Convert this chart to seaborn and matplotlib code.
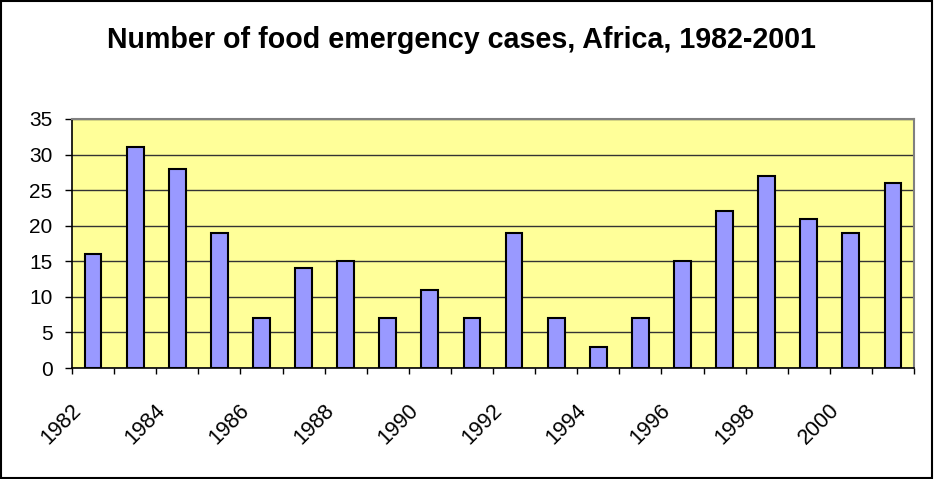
import matplotlib
matplotlib.use("Agg")
import matplotlib.pyplot as plt
import matplotlib.transforms as mtransforms
from matplotlib.patches import Rectangle
import seaborn as sns
import pandas as pd

years = [1982, 1983, 1984, 1985, 1986, 1987, 1988, 1989, 1990, 1991,
         1992, 1993, 1994, 1995, 1996, 1997, 1998, 1999, 2000, 2001]
cases = [16, 31, 28, 19, 7, 14, 15, 7, 11, 7,
         19, 7, 3, 7, 15, 22, 27, 21, 19, 26]
y_ticks = [0, 5, 10, 15, 20, 25, 30, 35]
title = "Number of food emergency cases, Africa, 1982-2001"

sns.set_style("white")
plt.rcParams['font.family'] = ['Liberation Sans', 'DejaVu Sans']
plt.rcParams['text.color'] = 'black'
plt.rcParams['xtick.color'] = 'black'
plt.rcParams['ytick.color'] = 'black'
plt.rcParams['xtick.labelcolor'] = 'black'
plt.rcParams['ytick.labelcolor'] = 'black'

df = pd.DataFrame({"year": [str(y) for y in years], "cases": cases})

fig = plt.figure(figsize=(9.34, 4.79), dpi=100)
ax = fig.add_axes([72/934, 1-368/479, (914-72)/934, (368-119)/479])
ax.set_facecolor("#FFFF99")

sns.barplot(data=df, x="year", y="cases", color="#9999FF", edgecolor="black",
            linewidth=1.5, width=0.4, saturation=1, ax=ax, zorder=3)

ax.set_xlim(-0.5, len(years) - 0.5)
ax.set_ylim(0, 35)
ax.set_yticks(y_ticks)
ax.set_yticklabels([str(v) for v in y_ticks], fontsize=15)
ax.yaxis.grid(True, color="#333333", linewidth=1.0, zorder=0)
ax.set_axisbelow(True)

bounds = [i - 0.5 for i in range(len(years) + 1)]
labels = [str(years[i]) if (i < len(years) and i % 2 == 0) else "" for i in range(len(bounds))]
ax.set_xticks(bounds)
ax.set_xticklabels(labels, fontsize=15.5, rotation=45, ha="right", va="center",
                   rotation_mode="anchor")
ax.tick_params(axis="x", bottom=True, direction="out", length=4.5, width=1,
               color="black", pad=0)
ax.tick_params(axis="y", left=True, direction="out", length=5, width=1,
               color="black", pad=9)
offset = mtransforms.ScaledTranslation(6/100, -33/100, fig.dpi_scale_trans)
for lab in ax.get_xticklabels():
    lab.set_transform(lab.get_transform() + offset)
ax.set_xlabel("")
ax.set_ylabel("")

for s in ["left", "bottom"]:
    ax.spines[s].set_color("black")
    ax.spines[s].set_linewidth(1.2)
for s in ["top", "right"]:
    ax.spines[s].set_visible(True)
    ax.spines[s].set_color("#808080")
    ax.spines[s].set_linewidth(1.5)

fig.text(461/934, 1 - 40/479, title, ha="center", va="center",
         fontsize=20.6, fontweight="bold", color="black")

fig.patches.append(Rectangle((0.001, 0.002), 0.997, 0.996, transform=fig.transFigure,
                             fill=False, edgecolor="black", linewidth=1.5))

fig.savefig("out.png", dpi=100)
